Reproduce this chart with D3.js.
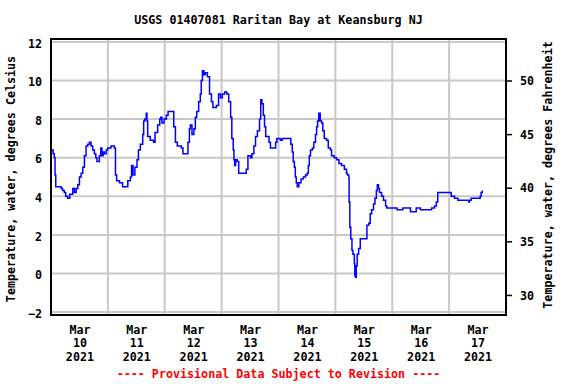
<!DOCTYPE html>
<html>
<head>
<meta charset="utf-8">
<script src="https://cdn.jsdelivr.net/npm/d3@7"></script>
<style>
    body { margin: 0; background: #fff; }
    svg text { font-family: "DejaVu Sans Mono", monospace; font-weight: bold; font-size: 11.7px; fill: #000; }
</style>
</head>
<body>
<div id="chart"></div>
<script>

// hours after 2021-03-10 00:00 and water temperature (deg C)
let hours = [0.2, 0.9, 1.4, 1.7, 2.0, 3.7, 4.3, 4.9, 5.6, 6.2, 7.0, 7.9, 9.2, 9.9, 10.6, 11.3, 12.0, 12.7, 13.4, 14.1,
    14.8, 15.5, 16.2, 16.9, 17.6, 18.3, 18.9, 19.4, 20.4, 21.0, 21.1, 21.5, 22.0, 22.5, 23.3, 23.9, 25.3, 26.0, 26.7, 27.2,
    27.7, 28.9, 30.2, 31.6, 32.4, 33.5, 34.0, 34.6, 35.4, 36.3, 36.9, 37.7, 38.7, 39.1, 39.6, 40.2, 40.5, 40.8, 41.9, 43.3,
    43.9, 45.0, 45.9, 46.3, 46.8, 47.7, 48.7, 49.4, 51.0, 51.8, 52.5, 53.3, 55.0, 55.7, 57.4, 57.8, 58.4, 58.8, 59.5, 60.3,
    60.9, 61.5, 62.3, 63.0, 63.4, 63.9, 64.5, 65.1, 66.0, 66.6, 66.9, 67.7, 68.3, 69.5, 69.8, 70.4, 70.7, 71.5, 72.3, 73.3,
    74.2, 75.0, 75.8, 76.3, 76.9, 77.2, 77.5, 77.9, 78.6, 79.2, 80.6, 81.4, 82.4, 83.1, 84.2, 84.8, 85.6, 86.3, 87.1, 88.0,
    88.5, 89.0, 89.6, 90.1, 90.6, 91.4, 92.0, 92.6, 94.2, 94.8, 95.3, 96.2, 96.8, 97.6, 100.4, 101.2, 101.8, 102.2, 102.7, 103.1,
    103.5, 103.9, 104.6, 105.5, 106.5, 107.4, 108.1, 108.6, 109.0, 109.5, 110.3, 110.9, 111.6, 112.1, 112.5, 113.0, 113.6, 114.2, 114.7, 115.3,
    116.3, 117.0, 117.9, 118.4, 119.5, 120.5, 121.5, 122.6, 123.8, 124.7, 125.1, 125.7, 125.8, 126.1, 126.5, 127.0, 127.4, 128.0, 128.2, 128.5,
    128.8, 129.2, 129.8, 130.5, 132.7, 133.3, 134.1, 134.7, 135.3, 136.1, 136.7, 137.3, 137.7, 138.2, 138.6, 139.5, 140.3, 141.2, 141.7, 145.7,
    146.0, 147.5, 148.5, 151.3, 151.7, 153.4, 154.1, 155.5, 155.9, 159.7, 160.6, 161.8, 162.6, 163.2, 168.2, 168.9, 170.3, 171.7, 176.2, 176.3,
    176.6, 177.3, 180.8, 181.1, 181.5, 182.0];

let tempC = [6.4, 6.2, 6.0, 5.1, 4.5, 4.5, 4.4, 4.3, 4.2, 4.0, 3.9, 4.1, 4.4, 4.2, 4.4, 4.6, 5.0, 5.2, 5.5, 6.1,
    6.6, 6.7, 6.8, 6.6, 6.4, 6.2, 6.0, 5.8, 6.1, 6.5, 6.5, 6.1, 6.3, 6.2, 6.4, 6.5, 6.6, 6.6, 6.5, 5.1,
    4.8, 4.7, 4.5, 4.5, 4.8, 5.0, 5.6, 5.1, 5.5, 5.9, 6.4, 6.7, 7.2, 7.9, 8.0, 8.3, 7.9, 7.1, 6.9, 6.8,
    7.3, 7.7, 8.0, 8.1, 7.8, 8.0, 8.2, 8.4, 8.4, 7.6, 6.8, 6.6, 6.5, 6.2, 6.2, 6.8, 7.5, 7.7, 7.2, 7.5,
    8.1, 8.4, 8.9, 9.3, 10.0, 10.5, 10.3, 10.4, 10.2, 10.2, 9.3, 8.9, 8.6, 8.6, 8.7, 8.7, 9.3, 9.1, 9.3, 9.4,
    9.3, 8.9, 8.1, 7.0, 6.4, 5.9, 5.6, 5.9, 5.8, 5.2, 5.2, 5.2, 5.4, 6.1, 6.0, 6.2, 6.6, 7.1, 7.4, 8.0,
    9.0, 8.8, 8.2, 7.6, 7.1, 7.1, 6.8, 6.5, 6.5, 6.8, 7.0, 7.0, 6.9, 7.0, 7.0, 6.7, 6.3, 5.8, 5.5, 5.0,
    4.7, 4.5, 4.7, 4.9, 5.0, 5.1, 5.2, 5.6, 6.1, 6.4, 6.5, 6.8, 7.2, 7.6, 7.9, 8.3, 7.9, 7.8, 7.4, 7.0,
    6.9, 6.5, 6.4, 6.1, 6.0, 5.9, 5.7, 5.6, 5.4, 5.2, 5.1, 4.9, 3.7, 2.4, 1.8, 1.2, 1.0, 0.5, -0.1, -0.2,
    0.4, 1.0, 1.3, 1.8, 1.8, 2.5, 2.6, 3.1, 3.3, 3.6, 3.9, 4.3, 4.6, 4.4, 4.2, 4.0, 3.8, 3.5, 3.4, 3.4,
    3.3, 3.3, 3.4, 3.4, 3.2, 3.2, 3.4, 3.4, 3.3, 3.3, 3.4, 3.5, 3.7, 4.2, 4.2, 4.0, 3.9, 3.8, 3.8, 3.7,
    3.8, 3.9, 3.9, 4.0, 4.2, 4.3];

let dayLabels = ["10", "11", "12", "13", "14", "15", "16", "17"];
let celsiusTicks = [-2, 0, 2, 4, 6, 8, 10, 12];
let fahrenheitTicks = [30, 35, 40, 45, 50];

let titleText = "USGS 01407081 Raritan Bay at Keansburg NJ";
let leftTitle = "Temperature, water, degrees Celsius";
let rightTitle = "Temperature, water, degrees Fahrenheit";
let footerText = "---- Provisional Data Subject to Revision ----";

let width = 576, height = 384;
let margin = {top: 39, right: 70, bottom: 69, left: 51};
let plotW = width - margin.left - margin.right;
let plotH = height - margin.top - margin.bottom;

let start = new Date(2021, 2, 10);
let data = hours.map((h, i) => ({date: new Date(start.getTime() + h * 3600e3), value: tempC[i]}));

let svg = d3.select("#chart").append("svg")
    .attr("width", width)
    .attr("height", height);

let g = svg.append("g")
    .attr("transform", `translate(${margin.left}, ${margin.top})`);

let x = d3.scaleTime()
    .domain([start, new Date(2021, 2, 18)])
    .range([0, plotW]);

let y = d3.scaleLinear()
    .domain([-2.15, 12.15])
    .range([plotH, 0]);

let yF = d3.scaleLinear()
    .domain([(-2.15 * 9 / 5) + 32, (12.15 * 9 / 5) + 32])
    .range([plotH, 0]);

// gridlines
let midnights = d3.range(1, 8).map(d => new Date(2021, 2, 10 + d));
g.selectAll(".vgrid")
    .data(midnights)
    .enter()
    .append("line")
    .attr("class", "vgrid")
    .attr("x1", d => x(d)).attr("x2", d => x(d))
    .attr("y1", 0).attr("y2", plotH)
    .attr("stroke", "#c8c8c8")
    .attr("stroke-width", 2);

g.selectAll(".hgrid")
    .data(celsiusTicks)
    .enter()
    .append("line")
    .attr("class", "hgrid")
    .attr("x1", 0).attr("x2", plotW)
    .attr("y1", d => y(d)).attr("y2", d => y(d))
    .attr("stroke", "#c8c8c8")
    .attr("stroke-width", 2);

// data line
let line = d3.line()
    .x(d => x(d.date))
    .y(d => y(d.value))
    .curve(d3.curveStepAfter);

g.append("path")
    .datum(data)
    .attr("d", line)
    .attr("fill", "none")
    .attr("stroke", "#0000ff")
    .attr("stroke-width", 1.5);

// frame
g.append("rect")
    .attr("width", plotW)
    .attr("height", plotH)
    .attr("fill", "none")
    .attr("stroke", "#000")
    .attr("stroke-width", 2);

// left axis (celsius)
let leftAxis = g.append("g")
    .call(d3.axisLeft(y).tickValues(celsiusTicks).tickSize(0).tickPadding(9));
leftAxis.select(".domain").remove();
leftAxis.selectAll("text").attr("dy", "0.45em");

// right axis (fahrenheit)
let rightAxis = g.append("g")
    .attr("transform", `translate(${plotW}, 0)`)
    .call(d3.axisRight(yF).tickValues(fahrenheitTicks).tickSize(6).tickPadding(8));
rightAxis.select(".domain").remove();
rightAxis.selectAll("line").attr("stroke", "#000").attr("stroke-width", 1.5);
rightAxis.selectAll("text").attr("dy", "0.35em");

// bottom axis, three-line labels at noon
let noons = dayLabels.map((d, i) => new Date(2021, 2, 10 + i, 12));
let bottomAxis = g.append("g")
    .attr("transform", `translate(0, ${plotH})`)
    .call(d3.axisBottom(x).tickValues(noons).tickSize(0).tickFormat(""));
bottomAxis.select(".domain").remove();
bottomAxis.selectAll(".tick text").remove();
bottomAxis.selectAll(".tick")
    .each(function(d, i) {
        let t = d3.select(this).append("text")
            .attr("text-anchor", "middle")
            .attr("fill", "#000");
        t.append("tspan").attr("x", 0).attr("y", 19).text("Mar");
        t.append("tspan").attr("x", 0).attr("y", 32).text(dayLabels[i]);
        t.append("tspan").attr("x", 0).attr("y", 46).text("2021");
    });

// titles
svg.append("text")
    .attr("x", margin.left + plotW / 2)
    .attr("y", 24)
    .attr("text-anchor", "middle")
    .text(titleText);

svg.append("text")
    .attr("transform", `translate(15, ${margin.top + plotH / 2 + 2}) rotate(-90)`)
    .attr("text-anchor", "middle")
    .text(leftTitle);

svg.append("text")
    .attr("transform", `translate(552, ${margin.top + plotH / 2 - 2}) rotate(-90)`)
    .attr("text-anchor", "middle")
    .text(rightTitle);

svg.append("text")
    .attr("x", margin.left + plotW / 2)
    .attr("y", 378)
    .attr("text-anchor", "middle")
    .style("fill", "#ff0000")
    .text(footerText);

</script>
</body>
</html>
